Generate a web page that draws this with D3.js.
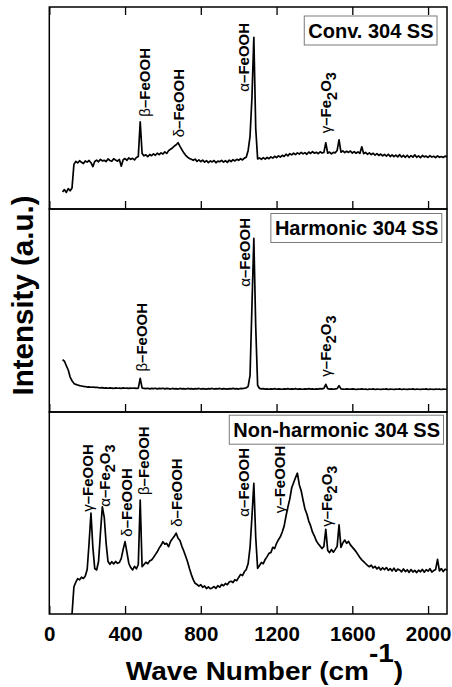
<!DOCTYPE html>
<html>
<head>
<meta charset="utf-8">
<script src="https://cdn.jsdelivr.net/npm/d3@7"></script>
<style>
  body { margin: 0; background: #fff; }
  svg text { font-family: "Liberation Sans", Arial, Helvetica, sans-serif; }
</style>
</head>
<body>
<svg id="chart" width="452" height="687"></svg>
<script>
// Raman shift sampling (cm^-1)
const waveNumbers = [
  70, 80, 90, 100, 110, 120, 130, 140, 150, 160,
  170, 180, 190, 200, 210, 220, 230, 240, 250, 260,
  270, 280, 290, 300, 310, 320, 330, 340, 350, 360,
  370, 380, 390, 400, 410, 420, 430, 440, 450, 460,
  470, 480, 490, 500, 510, 520, 530, 540, 550, 560,
  570, 580, 590, 600, 610, 620, 630, 640, 650, 660,
  670, 680, 690, 700, 710, 720, 730, 740, 750, 760,
  770, 780, 790, 800, 810, 820, 830, 840, 850, 860,
  870, 880, 890, 900, 910, 920, 930, 940, 950, 960,
  970, 980, 990, 1000, 1010, 1020, 1030, 1040, 1050, 1060,
  1070, 1080, 1090, 1100, 1110, 1120, 1130, 1140, 1150, 1160,
  1170, 1180, 1190, 1200, 1210, 1220, 1230, 1240, 1250, 1260,
  1270, 1280, 1290, 1300, 1310, 1320, 1330, 1340, 1350, 1360,
  1370, 1380, 1390, 1400, 1410, 1420, 1430, 1440, 1450, 1460,
  1470, 1480, 1490, 1500, 1510, 1520, 1530, 1540, 1550, 1560,
  1570, 1580, 1590, 1600, 1610, 1620, 1630, 1640, 1650, 1660,
  1670, 1680, 1690, 1700, 1710, 1720, 1730, 1740, 1750, 1760,
  1770, 1780, 1790, 1800, 1810, 1820, 1830, 1840, 1850, 1860,
  1870, 1880, 1890, 1900, 1910, 1920, 1930, 1940, 1950, 1960,
  1970, 1980, 1990, 2000, 2010, 2020, 2030, 2040, 2050, 2060,
  2070, 2080, 2090, 2100
];

// Intensity (a.u.), conventional 304 SS
const conv304 = [
  8.5, 9.6, 8.2, 10.1, 9.0, 10.4, 22.1, 23.6, 22.8, 23.9,
  23.1, 22.5, 23.8, 23.2, 24.0, 22.9, 21.0, 23.5, 24.2, 23.4,
  24.6, 23.8, 24.1, 23.5, 24.8, 24.0, 23.6, 24.9, 24.2, 23.7,
  24.5, 21.2, 24.4, 25.0, 24.1, 25.3, 24.6, 25.1, 24.3, 25.5,
  26.0, 43.2, 27.5, 26.3, 26.8, 25.9, 27.0, 26.4, 27.3, 26.6,
  27.6, 26.9, 27.8, 27.2, 28.3, 27.5, 28.9, 29.6, 30.2, 31.1,
  31.8, 32.8, 31.0, 29.4, 27.8, 26.6, 25.7, 25.0, 24.6, 24.1,
  24.7, 23.6, 24.3, 23.5, 24.2, 23.2, 23.9, 23.0, 23.8, 23.3,
  24.0, 22.9, 23.7, 23.4, 24.1, 23.2, 23.9, 23.1, 24.2, 23.5,
  24.4, 23.8, 24.6, 24.1, 24.9, 24.3, 25.2, 25.6, 29.0, 36.0,
  55.0, 85.0, 40.0, 24.8, 25.3, 24.6, 25.4, 24.7, 25.5, 24.9,
  25.8, 25.2, 26.1, 25.4, 26.3, 25.7, 26.6, 26.0, 27.1, 26.3,
  27.4, 26.8, 27.6, 26.9, 27.8, 27.2, 28.0, 27.3, 27.9, 27.1,
  28.2, 27.5, 28.4, 27.6, 28.1, 27.4, 28.3, 27.7, 28.0, 32.8,
  27.6, 28.2, 27.3, 28.0, 27.8, 29.0, 34.2, 28.1, 28.8, 27.9,
  28.6, 28.0, 28.7, 27.7, 28.4, 27.6, 28.3, 27.5, 30.8, 27.4,
  28.0, 27.1, 27.8, 26.9, 27.6, 26.7, 27.4, 26.5, 27.2, 26.3,
  27.0, 26.2, 27.1, 26.0, 26.8, 25.9, 26.7, 25.8, 26.9, 25.7,
  26.5, 25.6, 26.6, 25.5, 26.4, 25.7, 26.8, 25.6, 26.3, 25.4,
  26.5, 25.8, 26.2, 25.5, 26.4, 25.7, 26.1, 25.4, 26.3, 25.6,
  26.0, 25.5, 26.2, 25.8
];

// Intensity (a.u.), harmonic 304 SS
const harmonic304 = [
  25.8, 25.0, 22.8, 20.7, 17.2, 15.4, 14.1, 13.6, 13.3, 13.0,
  12.8, 12.6, 12.5, 12.3, 12.4, 12.2, 12.3, 12.1, 12.2, 12.0,
  11.9, 12.0, 11.8, 11.9, 11.7, 11.9, 11.8, 11.6, 11.9, 11.7,
  11.8, 11.6, 11.9, 11.7, 11.8, 11.6, 11.8, 11.7, 11.8, 11.6,
  11.8, 16.6, 11.9, 11.6, 11.5, 11.7, 11.4, 11.6, 11.5, 11.7,
  11.4, 11.6, 11.5, 11.7, 11.4, 11.6, 11.5, 11.3, 11.6, 11.4,
  11.5, 11.3, 11.6, 11.4, 11.5, 11.3, 11.6, 11.4, 11.5, 11.3,
  11.5, 11.4, 11.6, 11.3, 11.5, 11.4, 11.3, 11.5, 11.4, 11.6,
  11.3, 11.5, 11.4, 11.6, 11.3, 11.5, 11.4, 11.3, 11.5, 11.4,
  11.6, 11.4, 11.5, 11.3, 11.6, 11.5, 11.7, 11.9, 12.6, 18.0,
  52.0, 85.6, 42.0, 13.2, 11.6, 11.4, 11.5, 11.3, 11.4, 11.2,
  11.4, 11.3, 11.5, 11.2, 11.4, 11.3, 11.2, 11.4, 11.3, 11.5,
  11.2, 11.4, 11.3, 11.5, 11.2, 11.4, 11.3, 11.2, 11.4, 11.3,
  11.5, 11.3, 11.4, 11.2, 11.4, 11.3, 11.5, 11.4, 11.6, 13.6,
  11.5, 11.3, 11.4, 11.2, 11.4, 11.5, 13.0, 11.4, 11.3, 11.2,
  11.4, 11.3, 11.2, 11.4, 11.3, 11.1, 11.3, 11.2, 11.4, 11.2,
  11.3, 11.1, 11.3, 11.2, 11.4, 11.1, 11.3, 11.2, 11.1, 11.3,
  11.2, 11.4, 11.1, 11.3, 11.2, 11.1, 11.3, 11.2, 11.4, 11.1,
  11.3, 11.2, 11.1, 11.3, 11.2, 11.4, 11.1, 11.3, 11.2, 11.1,
  11.3, 11.2, 11.4, 11.1, 11.3, 11.2, 11.1, 11.3, 11.2, 11.3,
  11.1, 11.3, 11.2, 11.2
];

// Intensity (a.u.), non-harmonic 304 SS (no signal recorded below 120 cm^-1)
const nonHarmonic304 = [
  null, null, null, null, null, 0.0, 13.5, 15.8, 17.5, 16.9,
  18.2, 17.6, 18.8, 22.0, 35.0, 49.9, 33.0, 22.5, 21.8, 26.0,
  40.0, 53.1, 48.0, 35.0, 26.0, 24.6, 25.9, 24.8, 26.0, 25.1,
  25.5, 27.5, 32.0, 35.8, 30.5, 25.0, 23.0, 21.8, 23.6, 22.4,
  24.5, 56.4, 23.4, 24.5, 25.6, 24.9, 26.3, 26.7, 28.0, 29.4,
  30.8, 32.6, 34.0, 35.8, 34.6, 35.0, 33.3, 35.9, 37.2, 38.5,
  40.0, 37.5, 36.4, 33.5, 31.2, 28.6, 25.9, 22.5, 19.5, 17.0,
  15.2, 14.6, 13.8, 14.5, 13.2, 13.9, 12.6, 13.4, 12.5, 12.9,
  13.6, 12.7, 14.0, 13.3, 14.6, 14.0, 15.1, 14.5, 15.8, 16.2,
  15.6, 17.0, 16.5, 18.1, 19.6, 19.0, 20.9, 22.0, 25.0, 33.0,
  48.0, 64.7, 38.0, 22.6, 24.0, 25.5, 24.9, 27.0, 28.4, 30.0,
  30.4, 33.0, 32.4, 35.0, 36.8, 38.2, 40.6, 43.5, 48.5, 53.0,
  57.0, 62.5, 65.0, 67.5, 69.7, 64.0, 61.0, 56.4, 52.0, 49.5,
  46.0, 43.6, 40.5, 38.6, 36.2, 34.8, 33.6, 32.4, 33.5, 41.9,
  31.5, 30.4, 31.9, 30.6, 32.0, 33.5, 44.1, 33.0, 35.2, 36.6,
  35.0, 36.0, 34.2, 33.1, 32.0, 30.8, 29.4, 28.0, 26.8, 25.9,
  25.0, 24.1, 23.4, 24.2, 22.8, 23.6, 22.3, 23.2, 21.8, 22.9,
  22.0, 23.0, 21.6, 22.5, 21.3, 22.7, 21.1, 22.2, 21.8, 20.9,
  22.3, 21.0, 21.9, 20.6, 22.0, 20.8, 21.6, 20.5, 21.7, 20.9,
  22.1, 20.7, 21.9, 21.2, 22.4, 20.8, 21.5, 22.0, 27.0, 21.3,
  22.5, 21.0, 22.2, 21.6
];

const sampleNames = ["Conv. 304 SS", "Harmonic 304 SS", "Non-harmonic 304 SS"];
const xTickValues = [0, 400, 800, 1200, 1600, 2000];

// Phase assignments: panel index, label, wave number and intensity where the label begins
const peakLabels = [
  { panel: 0, text: "β–FeOOH",  wn: 502,  level: 45.7 },
  { panel: 0, text: "δ–FeOOH",  wn: 684,  level: 35.5 },
  { panel: 0, text: "α–FeOOH",  wn: 1029, level: 58.1 },
  { panel: 0, text: "γ–Fe2O3",  wn: 1462, level: 37.5 },
  { panel: 1, text: "β–FeOOH",  wn: 488,  level: 19.9 },
  { panel: 1, text: "α–FeOOH",  wn: 1033, level: 61.7 },
  { panel: 1, text: "γ–Fe2O3",  wn: 1461, level: 17.4 },
  { panel: 2, text: "γ–FeOOH",  wn: 203,  level: 50.6 },
  { panel: 2, text: "α–Fe2O3",  wn: 294,  level: 53.1 },
  { panel: 2, text: "δ–FeOOH",  wn: 409,  level: 38.3 },
  { panel: 2, text: "β–FeOOH",  wn: 497,  level: 58.9 },
  { panel: 2, text: "δ–FeOOH",  wn: 673,  level: 43.2 },
  { panel: 2, text: "α–FeOOH",  wn: 1029, level: 48.2 },
  { panel: 2, text: "γ–FeOOH",  wn: 1215, level: 49.9 },
  { panel: 2, text: "γ–Fe2O3",  wn: 1466, level: 43.2 }
];

// ---- layout ----
const svg = d3.select("#chart");
const plotLeft = 49.3, plotRight = 447;
const panelTops = [7, 209, 412];
const panelBottoms = [209, 412, 614];
const legendLayout = [
  { right: 433.5, cy: 30.5 },
  { right: 438.3, cy: 228 },
  { right: 440, cy: 429.7 }
];

const x = d3.scaleLinear().domain([0, 2100]).range([plotLeft, plotRight]);
const series = [conv304, harmonic304, nonHarmonic304];
const greek = /[αβγδ]/;

series.forEach((values, p) => {
  const y = d3.scaleLinear().domain([0, 100]).range([panelBottoms[p], panelTops[p]]);
  const g = svg.append("g");

  // spectrum
  const pts = waveNumbers.map((w, i) => [w, values[i]]);
  g.append("path")
    .datum(pts)
    .attr("fill", "none")
    .attr("stroke", "#000")
    .attr("stroke-width", 1.7)
    .attr("stroke-linejoin", "round")
    .attr("d", d3.line()
      .defined(d => d[1] !== null)
      .x(d => x(d[0]))
      .y(d => y(d[1])));

  // bottom axis with inward ticks
  const axB = g.append("g")
    .attr("transform", `translate(0,${panelBottoms[p]})`)
    .call(d3.axisBottom(x).tickValues(xTickValues).tickFormat(d3.format("d"))
      .tickSizeInner(-8).tickSizeOuter(0).tickPadding(12));
  axB.select(".domain").remove();
  axB.selectAll(".tick line").attr("stroke", "#000").attr("stroke-width", 1.3);
  if (p === 2) {
    axB.selectAll(".tick text")
      .attr("fill", "#000")
      .style("font-size", "20.5px")
      .style("font-weight", "bold");
  } else {
    axB.selectAll(".tick text").remove();
  }

  // top panel also carries ticks along its upper edge
  if (p === 0) {
    const axT = g.append("g")
      .attr("transform", `translate(0,${panelTops[p]})`)
      .call(d3.axisTop(x).tickValues(xTickValues).tickSizeInner(-8).tickSizeOuter(0));
    axT.select(".domain").remove();
    axT.selectAll(".tick text").remove();
    axT.selectAll(".tick line").attr("stroke", "#000").attr("stroke-width", 1.3);
  }

  // frame
  g.append("rect")
    .attr("x", plotLeft).attr("y", panelTops[p])
    .attr("width", plotRight - plotLeft)
    .attr("height", panelBottoms[p] - panelTops[p])
    .attr("fill", "none").attr("stroke", "#000").attr("stroke-width", 1.5);

  // sample name box
  const lg = g.append("g");
  const box = lg.append("rect");
  const lt = lg.append("text")
    .attr("x", legendLayout[p].right)
    .attr("y", legendLayout[p].cy)
    .attr("dy", "0.35em")
    .attr("text-anchor", "end")
    .style("font-size", "20px")
    .style("font-weight", "bold")
    .text(sampleNames[p]);
  const bb = lt.node().getBBox();
  box.attr("x", bb.x - 4).attr("y", legendLayout[p].cy - 14.5)
    .attr("width", bb.width + 7.5).attr("height", 29)
    .attr("fill", "#fff").attr("stroke", "#7a7a7a").attr("stroke-width", 1);

  // phase labels
  peakLabels.filter(l => l.panel === p).forEach(l => {
    const t = g.append("text")
      .attr("transform", `translate(${x(l.wn)},${y(l.level)}) rotate(-90)`)
      .attr("dy", "0.35em")
      .style("font-size", "15px")
      .style("font-weight", "bold");
    let sub = false;
    [...l.text].forEach(ch => {
      const ts = t.append("tspan").text(ch);
      if (greek.test(ch)) ts.style("font-weight", "normal");
      if (/[0-9]/.test(ch)) {
        ts.attr("dy", sub ? null : "0.35em").style("font-size", "14.5px");
        sub = true;
      } else if (sub) {
        ts.attr("dy", "-0.35em");
        sub = false;
      }
    });
  });
});

// axis titles
svg.append("text")
  .attr("transform", "translate(33.3,295.5) rotate(-90)")
  .attr("text-anchor", "middle")
  .style("font-size", "29.5px")
  .style("font-weight", "bold")
  .text("Intensity (a.u.)");

const xt = svg.append("text")
  .attr("transform", "translate(264.5,680) scale(1.12,1)")
  .attr("text-anchor", "middle")
  .style("font-size", "25px")
  .style("font-weight", "bold");
xt.append("tspan").text("Wave Number (cm");
xt.append("tspan").attr("dy", "-0.72em").text("-1");
xt.append("tspan").attr("dy", "0.72em").text(")");
</script>
</body>
</html>
